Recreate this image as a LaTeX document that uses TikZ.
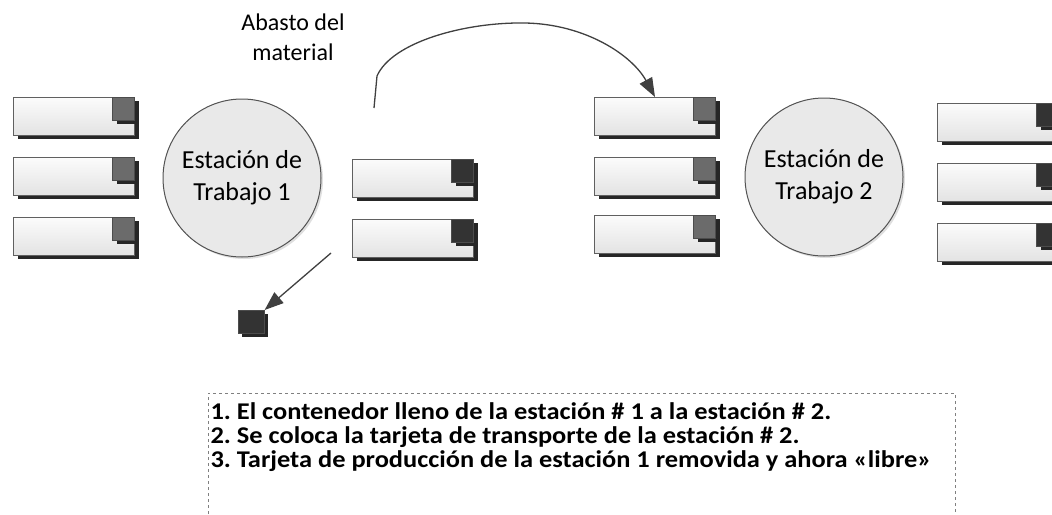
\documentclass[tikz,border=0pt]{standalone}
\usepackage{fontspec}
\setmainfont{Carlito}
\usetikzlibrary{%
  arrows.meta,%
  shadows,%
  positioning% wg. " of "
}
\frenchspacing

\begin{document}
\begin{tikzpicture}[
  x=1pt, y=-1pt, >={Triangle[length=19pt,width=14pt]}, line width=1pt,
  contenedor/.style={rectangle, anchor=north west, minimum width=121pt, minimum height=38pt, inner sep=0pt, draw=gray!75!black, top color=gray!3, bottom color=gray!22, drop shadow={shadow xshift=4pt, shadow yshift=-3pt, fill=black!85, opacity=1}},
  tarjetagris/.style={rectangle, anchor=north east, minimum width=22pt, minimum height=23pt, inner sep=0pt, draw=gray!60!black, line width=0.6pt, fill=black!58, drop shadow={shadow xshift=4pt, shadow yshift=-4pt, fill=black!85, opacity=1}},
  tarjetanegra/.style={tarjetagris, fill=black!80},
  estacion/.style={circle, minimum size=158pt, inner sep=0pt, draw=gray!65!black, fill=gray!17, align=center, font=\fontsize{26}{32}\selectfont, drop shadow={shadow xshift=2pt, shadow yshift=-2pt, fill=gray!25, opacity=1}},
  flecha/.style={->, draw=black!75, line width=1.3pt}
]
\useasboundingbox (0,0) rectangle (1052,514);

% estacion 1
\node[estacion] (est1) at (242,178) {Estación de\\Trabajo 1};
\node[contenedor] (e1a) at (13,97) {};
\node[tarjetagris] (e1at) at (e1a.north east) {};
\node[contenedor] (e1b) at (13,157) {};
\node[tarjetagris] (e1bt) at (e1b.north east) {};
\node[contenedor] (e1c) at (13,217) {};
\node[tarjetagris] (e1ct) at (e1c.north east) {};
\node[contenedor] (s1a) at (352,159) {};
\node[tarjetanegra] (s1at) at (s1a.north east) {};
\node[contenedor] (s1b) at (352,219) {};
\node[tarjetanegra] (s1bt) at (s1b.north east) {};

% tarjeta libre
\node[tarjetanegra, anchor=north west, minimum width=26pt] (libre) at (238,310) {};

% estacion 2
\node[estacion] (est2) at (824,177) {Estación de\\Trabajo 2};
\node[contenedor] (e2a) at (594,97) {};
\node[tarjetagris] (e2at) at (e2a.north east) {};
\node[contenedor] (e2b) at (594,157) {};
\node[tarjetagris] (e2bt) at (e2b.north east) {};
\node[contenedor] (e2c) at (594,215) {};
\node[tarjetagris] (e2ct) at (e2c.north east) {};
\node[contenedor] (s2a) at (937,103) {};
\node[tarjetanegra] (s2at) at (s2a.north east) {};
\node[contenedor] (s2b) at (937,163) {};
\node[tarjetanegra] (s2bt) at (s2b.north east) {};
\node[contenedor] (s2c) at (937,223) {};
\node[tarjetanegra] (s2ct) at (s2c.north east) {};

% flechas
\node[align=center, font=\fontsize{24}{30}\selectfont] (abasto) at (293,37) {Abasto del\\material};
\coordinate (salida) at (374,108);
\coordinate (retiro) at (331,253);
\draw[flecha] (salida) -- (377,76) .. controls (392,42) and (465,22) .. (525,23)
  .. controls (585,24) and (632,55) .. (e2a.north);
\draw[flecha] (retiro) -- (libre.north east);

% pasos
\draw[dashed, draw=gray, line width=0.7pt] (208,520) |- (955,393) -- (955,520);
\node[anchor=north west, align=left, inner sep=0pt, font=\bfseries\fontsize{24}{24}\selectfont\addfontfeature{FakeStretch=1.1}] (pasos) at (210,402)
  {1. El contenedor lleno de la estación \# 1 a la estación \# 2.\\
   2. Se coloca la tarjeta de transporte de la estación \# 2.\\
   3. Tarjeta de producción de la estación 1 removida y ahora «libre»};
\end{tikzpicture}
\end{document}
